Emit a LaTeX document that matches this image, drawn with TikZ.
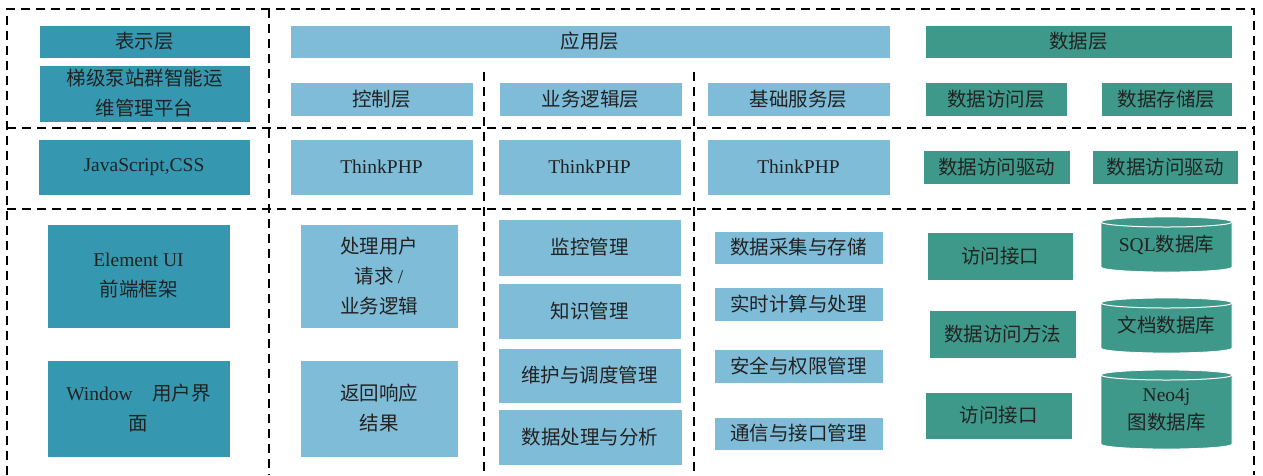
\documentclass[tikz,border=0pt]{standalone}
\usepackage{fontspec}
\setmainfont{Noto Sans CJK SC}
\newfontfamily\latin{Liberation Serif}
\usepackage{tikz}
\usetikzlibrary{backgrounds}

\definecolor{presclr}{HTML}{3598B0}
\definecolor{appclr}{HTML}{7FBCD8}
\definecolor{dataclr}{HTML}{3E998A}
\definecolor{txtclr}{HTML}{222222}

\begin{document}
\begin{tikzpicture}[
            x=1pt, y=-1pt,
            font=\fontsize{19.5}{30}\selectfont,
            blk/.style={draw=white, line width=0.6pt, inner sep=0pt, outer sep=0pt,
            align=center, text=txtclr},
            pres/.style={blk, fill=presclr},
            app/.style={blk, fill=appclr},
            dat/.style={blk, fill=dataclr},
            db/.style={inner sep=0pt, outer sep=0pt, align=center, text=txtclr,
            font=\fontsize{19.5}{28}\selectfont},
            dbbody/.style={fill=dataclr, draw=white, line width=0.8pt},
            sz/.style 2 args={minimum width=#1, minimum height=#2},
            grid/.style={draw=black, line width=1.6pt, dash pattern=on 9pt off 6pt}
        ]
\useasboundingbox (0,0) rectangle (1263,475);

% --- dashed frame and dividers ---
            \draw[grid] (7,475) -- (7,9) -- (1254,9) -- (1254,475);
            \draw[grid] (7,128) -- (1254,128);
            \draw[grid] (7,209) -- (1254,209);
            \draw[grid] (269,9) -- (269,475);
            \draw[grid] (484,72) -- (484,475);
            \draw[grid] (694,72) -- (694,475);

% --- presentation layer ---
            \node[pres, sz={211}{33}]  (pres)  at (144.5,41.5) {表示层};
            \node[pres, sz={211}{57}]  (plat)  at (144.5,93.5) {梯级泵站群智能运\\维管理平台};
            \node[pres, sz={212}{56}]  (jscss) at (144,167)    {\latin JavaScript,CSS};
            \node[pres, sz={183}{104}] (elem)  at (138.5,276)  {{\latin Element UI}\\前端框架};
            \node[pres, sz={183}{97}]  (win)   at (138.5,408.5) {{\latin Window}\quad 用户界\\面};

% --- application layer ---
            \node[app, sz={600}{33}]  (app)   at (590,41.5)   {应用层};
            \node[app, sz={183}{34}]  (ctrl)  at (381.5,99)   {控制层};
            \node[app, sz={183}{56}]  (tp1)   at (381.5,167)  {\latin ThinkPHP};
            \node[app, sz={158}{104}] (req)   at (379,276)    {处理用户\\请求 {\latin /}\\业务逻辑};
            \node[app, sz={158}{97}]  (resp)  at (379,408.5)  {返回响应\\结果};

            \node[app, sz={183}{34}]  (biz)   at (590.5,99)   {业务逻辑层};
            \node[app, sz={183}{56}]  (tp2)   at (589.5,167)  {\latin ThinkPHP};
            \node[app, sz={183}{57}]  (mon)   at (589.5,247.5) {监控管理};
            \node[app, sz={183}{56}]  (know)  at (589.5,311)  {知识管理};
            \node[app, sz={183}{55}]  (maint) at (589.5,375.5) {维护与调度管理};
            \node[app, sz={184}{56}]  (proc)  at (590,437)    {数据处理与分析};

            \node[app, sz={183}{34}]  (base)  at (798.5,99)   {基础服务层};
            \node[app, sz={183}{56}]  (tp3)   at (798.5,167)  {\latin ThinkPHP};
            \node[app, sz={169}{33}]  (coll)  at (798.5,247.5) {数据采集与存储};
            \node[app, sz={169}{34}]  (rtc)   at (798.5,304)  {实时计算与处理};
            \node[app, sz={169}{34}]  (sec)   at (798.5,366)  {安全与权限管理};
            \node[app, sz={169}{33}]  (comm)  at (798.5,433.5) {通信与接口管理};

% --- data layer ---
            \node[dat, sz={307}{33}]  (data)  at (1078.5,41.5) {数据层};
            \node[dat, sz={142}{34}]  (dacc)  at (996,99)     {数据访问层};
            \node[dat, sz={131}{34}]  (dsto)  at (1166.5,99)  {数据存储层};
            \node[dat, sz={147}{34}]  (drv1)  at (996.5,167)  {数据访问驱动};
            \node[dat, sz={146}{34}]  (drv2)  at (1165,167)   {数据访问驱动};
            \node[dat, sz={146}{48}]  (api1)  at (1000,256)   {访问接口};
            \node[dat, sz={147}{48}]  (meth)  at (1002.5,334) {数据访问方法};
            \node[dat, sz={147}{47}]  (api2)  at (998.5,415.5) {访问接口};

% databases (cylinders drawn behind the text)
            \node[db, sz={131}{45}]   (sql)   at (1166.5,244.5) {{\latin SQL}数据库};
            \node[db, sz={131}{45}]   (doc)   at (1166.5,325.5) {文档数据库};
            \node[db, sz={131}{69}]   (neo)   at (1166.5,409.5) {{\latin Neo4j}\\图数据库};

            \begin{scope}[on background layer]
            \foreach \db in {sql,doc,neo}{
                \path[dbbody] (\db.north west)
                    arc[start angle=180, end angle=0, x radius=65.5pt, y radius=5pt]
                    -- (\db.south east)
                    arc[start angle=0, end angle=-180, x radius=65.5pt, y radius=5pt]
                    -- cycle;
                \draw[white, line width=1pt] (\db.north west)
                    arc[start angle=180, end angle=360, x radius=65.5pt, y radius=5pt];
            }
            \end{scope}
        \end{tikzpicture}
\end{document}
